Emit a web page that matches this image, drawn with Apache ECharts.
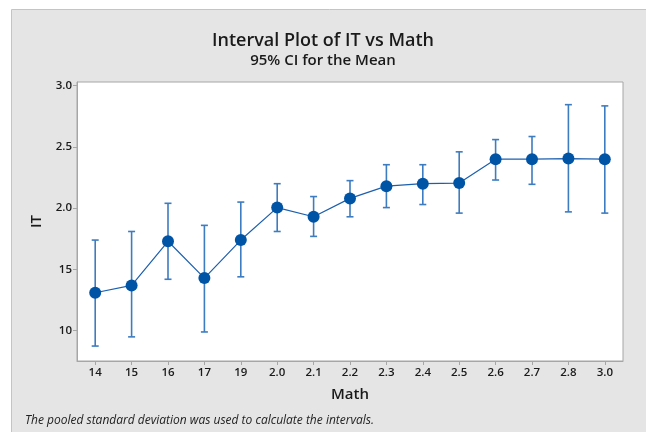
<!DOCTYPE html>
<html>
<head>
<meta charset="utf-8">
<script src="https://cdn.jsdelivr.net/npm/echarts@6/dist/echarts.min.js"></script>
<style>
html,body{margin:0;padding:0;background:#ffffff;}
#chart{width:646px;height:432px;}
</style>
</head>
<body>
<div id="chart"></div>
<script>
const categories = ["14","15","16","17","19","2.0","2.1","2.2","2.3","2.4","2.5","2.6","2.7","2.8","3.0"];
const means = [1.31, 1.37, 1.73, 1.43, 1.74, 2.005, 1.93, 2.08, 2.18, 2.20, 2.205, 2.40, 2.40, 2.405, 2.40];
const lower = [0.875, 0.95, 1.42, 0.99, 1.44, 1.81, 1.77, 1.93, 2.005, 2.03, 1.96, 2.23, 2.195, 1.97, 1.96];
const upper = [1.74, 1.81, 2.04, 1.86, 2.05, 2.20, 2.095, 2.225, 2.355, 2.355, 2.46, 2.56, 2.585, 2.845, 2.835];
const yTickValues = [1.0, 1.5, 2.0, 2.5, 3.0];
const yTickLabels = ["10", "15", "2.0", "2.5", "3.0"];

const FONT = "Open Sans";
const chart = echarts.init(document.getElementById('chart'), null, {renderer: 'canvas'});

const errData = categories.map((c, i) => [i, lower[i], upper[i]]);

chart.setOption({
  animation: false,
  backgroundColor: '#ffffff',
  graphic: [
    {
      type: 'rect', z: -10, silent: true,
      shape: {x: 11.5, y: 9.5, width: 700, height: 500},
      style: {fill: '#e5e5e5', stroke: '#c4c4c4', lineWidth: 1}
    },
    {
      type: 'text', left: 25, top: 415, z: 10,
      style: {text: 'The pooled standard deviation was used to calculate the intervals.',
        font: 'italic 12px "' + FONT + '"', fill: '#222222'}
    }
  ],
  title: {
    text: 'Interval Plot of IT vs Math',
    subtext: '95% CI for the Mean',
    left: 'center',
    top: 27,
    itemGap: 3,
    textStyle: {fontFamily: FONT, fontSize: 18, fontWeight: 600, color: '#1a1a1a'},
    subtextStyle: {fontFamily: FONT, fontSize: 15, fontWeight: 600, color: '#1a1a1a'}
  },
  grid: {
    left: 77, top: 82, right: 23, bottom: 71,
    show: true, backgroundColor: '#ffffff', borderColor: '#a6a6a6', borderWidth: 1
  },
  xAxis: {
    type: 'category',
    data: categories,
    boundaryGap: true,
    name: 'Math',
    nameLocation: 'middle',
    nameGap: 26,
    nameTextStyle: {fontFamily: FONT, fontSize: 15, fontWeight: 600, color: '#1a1a1a'},
    axisLine: {show: true, lineStyle: {color: '#a6a6a6', width: 1}},
    axisTick: {show: true, alignWithLabel: true, length: 4, lineStyle: {color: '#a6a6a6'}},
    axisLabel: {fontFamily: FONT, fontSize: 11.5, fontWeight: 600, color: '#1a1a1a', margin: 6},
    splitLine: {show: false}
  },
  yAxis: {
    type: 'value',
    min: 0.753,
    max: 3.03,
    name: 'IT',
    nameLocation: 'middle',
    nameGap: 33,
    nameTextStyle: {fontFamily: FONT, fontSize: 15, fontWeight: 600, color: '#1a1a1a'},
    axisLine: {show: true, lineStyle: {color: '#a6a6a6', width: 1}},
    axisTick: {show: true, length: 4, lineStyle: {color: '#a6a6a6'}, customValues: yTickValues},
    axisLabel: {
      fontFamily: FONT, fontSize: 11.5, fontWeight: 600, color: '#1a1a1a', margin: 5,
      customValues: yTickValues,
      formatter: function (v) {
        const idx = yTickValues.findIndex(t => Math.abs(t - v) < 1e-6);
        return idx >= 0 ? yTickLabels[idx] : '';
      }
    },
    splitLine: {show: false}
  },
  series: [
    {
      type: 'custom',
      z: 2,
      data: errData,
      renderItem: function (params, api) {
        const x = api.value(0);
        const lo = api.coord([x, api.value(1)]);
        const hi = api.coord([x, api.value(2)]);
        const hw = 3.5;
        const st = {stroke: '#3d7cc0', lineWidth: 1.6};
        return {
          type: 'group',
          children: [
            {type: 'line', shape: {x1: lo[0], y1: lo[1], x2: hi[0], y2: hi[1]}, style: st},
            {type: 'line', shape: {x1: lo[0] - hw, y1: lo[1], x2: lo[0] + hw, y2: lo[1]}, style: st},
            {type: 'line', shape: {x1: hi[0] - hw, y1: hi[1], x2: hi[0] + hw, y2: hi[1]}, style: st}
          ]
        };
      }
    },
    {
      type: 'line',
      z: 3,
      data: means,
      symbol: 'circle',
      symbolSize: 12,
      lineStyle: {color: '#1c5fae', width: 1.2},
      itemStyle: {color: '#0054a6', borderWidth: 0}
    }
  ]
});
</script>
</body>
</html>
